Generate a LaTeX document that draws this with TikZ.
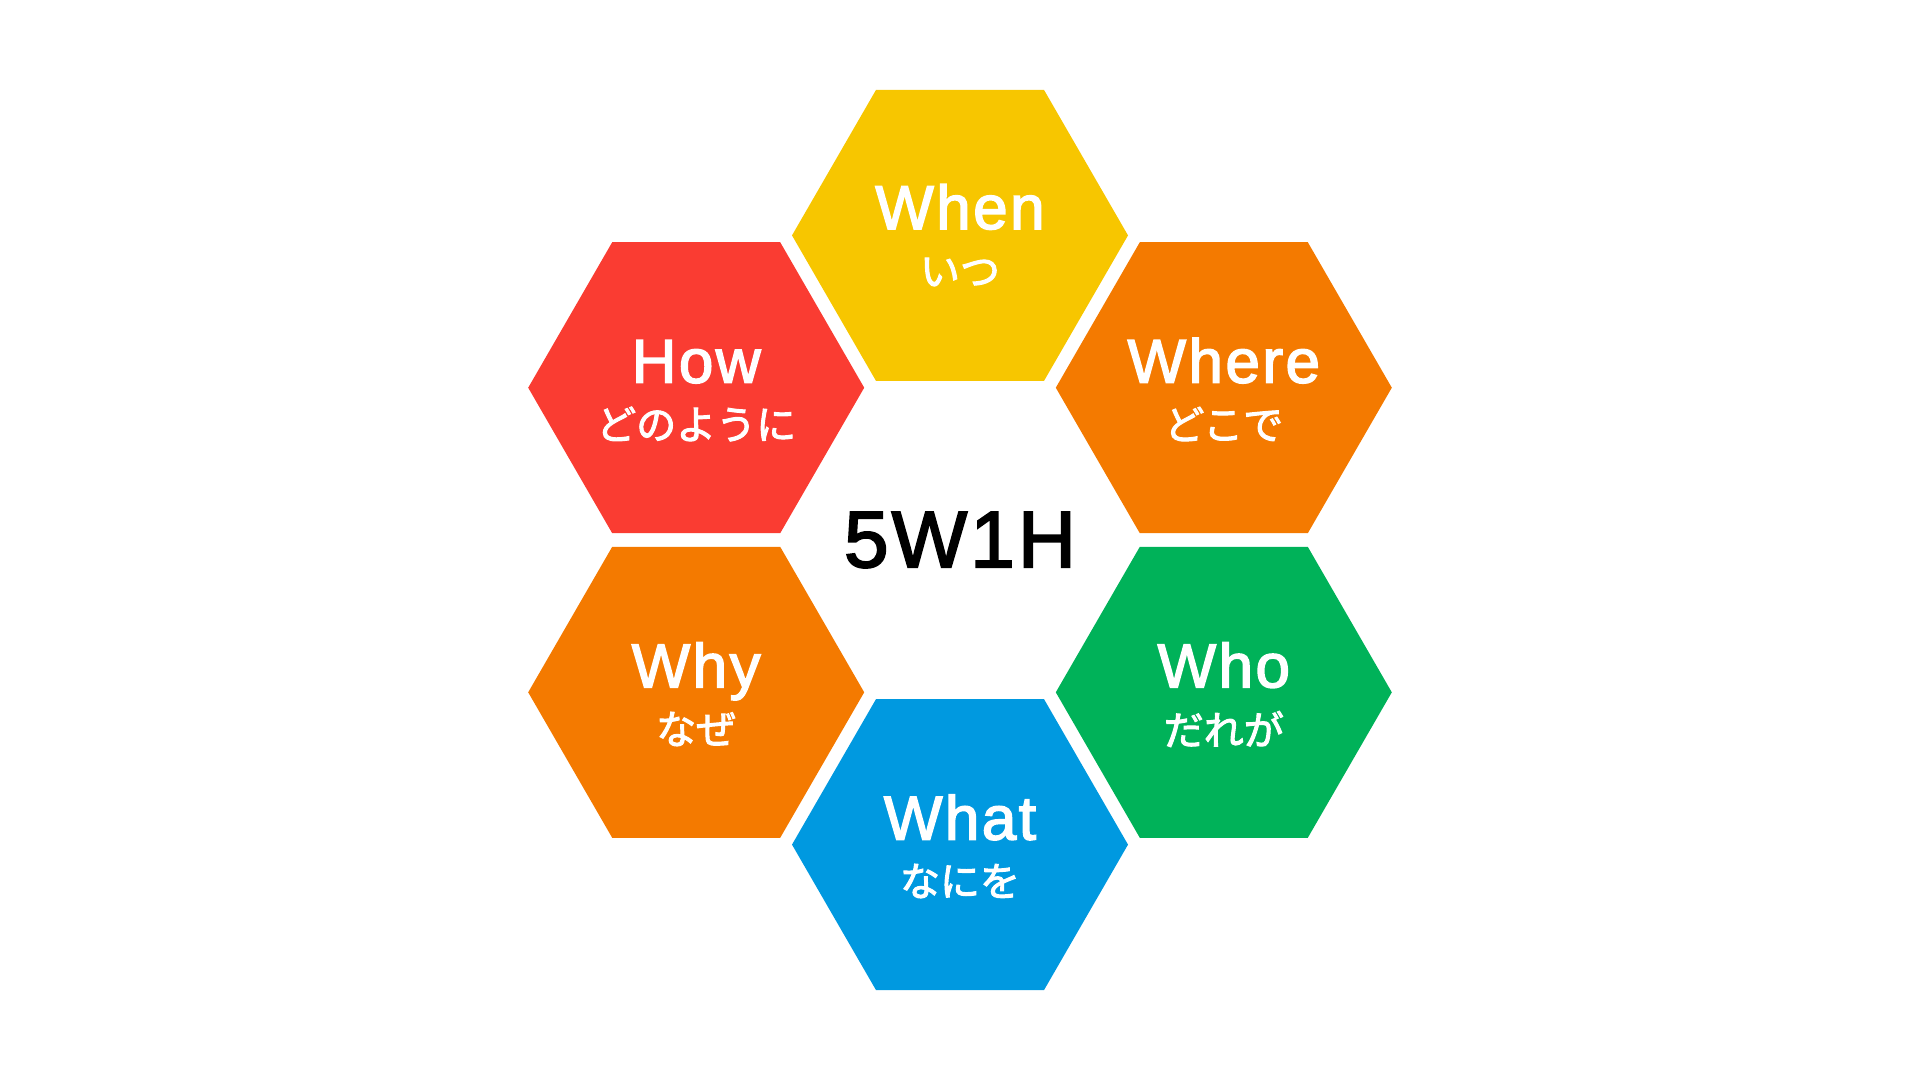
\documentclass[tikz,border=0pt]{standalone}
\usepackage{fontspec}
\setmainfont{Noto Sans CJK JP}
\newfontfamily\enfont{Liberation Sans}[FakeBold=2.5,LetterSpace=4]
\newfontfamily\jafont{Noto Sans CJK JP}[FakeBold=2.5]
\usetikzlibrary{shapes.geometric}
\definecolor{whenyellow}{HTML}{F7C600}
\definecolor{howred}{HTML}{FA3C32}
\definecolor{whereorange}{HTML}{F47A00}
\definecolor{whogreen}{HTML}{00B259}
\definecolor{whatblue}{HTML}{0099E0}
\tikzset{hexa/.style = {shape=regular polygon,regular polygon sides=6,minimum size=336pt,inner sep=0pt,draw=none}}
\tikzset{entext/.style = {text=white,anchor=base,font=\fontsize{62}{62}\selectfont\enfont}}
\tikzset{jatext/.style = {text=white,font=\fontsize{40}{40}\selectfont\jafont}}

\begin{document}
\begin{tikzpicture}[x=1pt,y=-1pt]
                \useasboundingbox (0,0) rectangle (1920,1080);
                % hexagons
                \node[hexa, fill=whenyellow] (when) at (960,235.4) {};
                \node[hexa, fill=howred] (how) at (696.2,387.7) {};
                \node[hexa, fill=whereorange] (where) at (1223.8,387.7) {};
                \node[hexa, fill=whereorange] (why) at (696.2,692.3) {};
                \node[hexa, fill=whogreen] (who) at (1223.8,692.3) {};
                \node[hexa, fill=whatblue] (what) at (960,844.6) {};
                % labels
                \node[entext] (when-en) at (960,229) {When};
                \node[jatext] (when-ja) at (960,272) {いつ};
                \node[entext] (how-en) at (696.2,382.7) {How};
                \node[jatext] (how-ja) at (696.2,424) {どのように};
                \node[entext] (where-en) at (1223.8,382.7) {Where};
                \node[jatext] (where-ja) at (1223.8,424) {どこで};
                \node[entext] (why-en) at (696.2,687.3) {Why};
                \node[jatext] (why-ja) at (696.2,729) {なぜ};
                \node[entext] (who-en) at (1223.8,687.3) {Who};
                \node[jatext] (who-ja) at (1223.8,729) {だれが};
                \node[entext] (what-en) at (960,839.6) {What};
                \node[jatext] (what-ja) at (960,881) {なにを};
                \node[font=\fontsize{80}{80}\selectfont\enfont] (title) at (960,540) {5W1H};
\end{tikzpicture}
\end{document}
